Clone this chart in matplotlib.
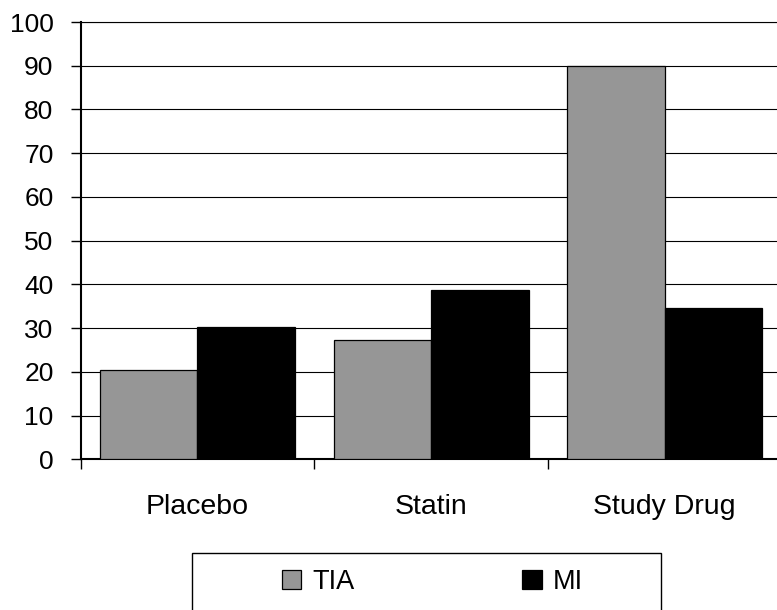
import matplotlib
matplotlib.use("Agg")
import matplotlib.pyplot as plt
from matplotlib.patches import Rectangle
import numpy as np

plt.rcParams['font.family'] = ['Liberation Sans', 'DejaVu Sans']

categories = ["Placebo", "Statin", "Study Drug"]
series_names = ["TIA", "MI"]
tia_values = [20.5, 27.3, 90.0]
mi_values = [30.3, 38.7, 34.6]
y_ticks = [0, 10, 20, 30, 40, 50, 60, 70, 80, 90, 100]

W, H = 777, 610
fig = plt.figure(figsize=(W / 100, H / 100), dpi=100)
ax = fig.add_axes([80.7 / W, (H - 459.3) / H, (781.5 - 80.7) / W, (459.3 - 22) / H])

x = np.arange(len(categories))
bw = 0.417
ax.bar(x - bw, tia_values, width=bw, align='edge', color='#969696',
       edgecolor='black', linewidth=0.9, label=series_names[0], zorder=3)
ax.bar(x, mi_values, width=bw, align='edge', color='black',
       edgecolor='black', linewidth=0.9, label=series_names[1], zorder=3)

ax.set_xlim(-0.5, 2.5)
ax.set_ylim(0, 100)
ax.set_yticks(y_ticks)
ax.set_yticklabels([str(v) for v in y_ticks])
ax.set_xticks(x)
ax.set_xticklabels(categories)
ax.set_xticks([-0.5, 0.5, 1.5, 2.5], minor=True)

ax.yaxis.grid(True, color='black', linewidth=0.8, zorder=0)
ax.set_axisbelow(True)

ax.tick_params(axis='y', which='major', direction='out', length=7.5, width=1.0,
               labelsize=19, pad=12, colors='black')
ax.tick_params(axis='x', which='major', length=0, labelsize=20.5, pad=25)
ax.tick_params(axis='x', which='minor', direction='out', length=7.5, width=1.0)

for s in ['left', 'bottom']:
    ax.spines[s].set_linewidth(1.5)
    ax.spines[s].set_color('black')
for s in ['top', 'right']:
    ax.spines[s].set_linewidth(0.8)

# legend
handles, labels = ax.get_legend_handles_labels()
leg = fig.legend(handles, labels, loc='center left',
                 bbox_to_anchor=(281.7 / W, (H - 582) / H),
                 ncol=2, frameon=False, fontsize=19.5, borderpad=0,
                 borderaxespad=0, handlelength=0.73, handleheight=0.73,
                 handletextpad=0.4, columnspacing=6.2)
fig.patches.append(Rectangle((192.3 / W, -2 / H), (660.7 - 192.3) / W, (H - 553.3 + 2) / H,
                             transform=fig.transFigure, fill=False,
                             edgecolor='black', linewidth=1.0))

fig.savefig("out.png", dpi=100)
